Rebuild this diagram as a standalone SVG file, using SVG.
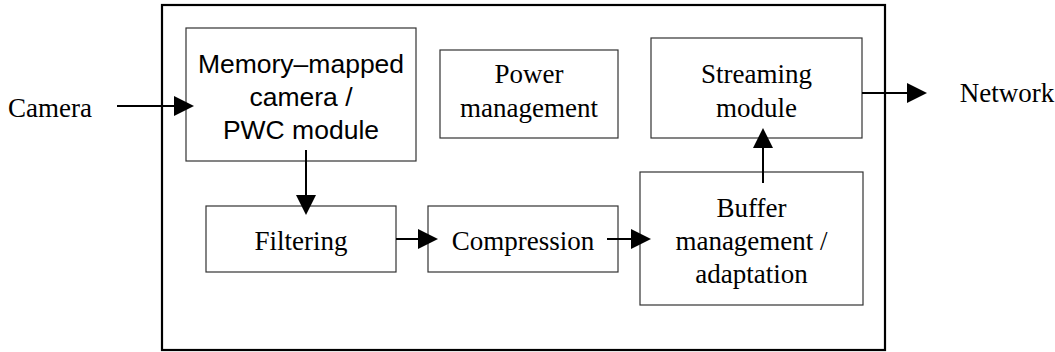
<svg xmlns="http://www.w3.org/2000/svg" width="1055" height="352" viewBox="0 0 1055 352">
<style>
.box{fill:#fff;stroke:#333;stroke-width:1.2}
.outer{fill:none;stroke:#000;stroke-width:2.2}
.serif{font-family:"Liberation Serif","Times New Roman",serif;font-size:27px;fill:#000;text-anchor:middle}
.sans{font-family:"Liberation Sans",Arial,sans-serif;font-size:26.5px;fill:#000;text-anchor:middle}
.conn{fill:none;stroke:#000;stroke-width:2;marker-end:url(#ah)}
</style>
<defs>
<marker id="ah" viewBox="0 0 20 20" refX="0" refY="10" markerWidth="20" markerHeight="20" markerUnits="userSpaceOnUse" orient="auto">
<path d="M0,0 L20,10 L0,20 z" fill="#000"/>
</marker>
</defs>
<rect id="system" class="outer" x="162" y="5" width="723" height="345"/>
<g id="camera"><text class="serif" x="50" y="117">Camera</text></g>
<g id="network"><text class="serif" x="1007" y="102">Network</text></g>
<g id="memory">
<rect class="box" x="186" y="28" width="230" height="133"/>
<text class="sans" x="301" y="73">Memory–mapped</text>
<text class="sans" x="301" y="106">camera /</text>
<text class="sans" x="301" y="139">PWC module</text>
</g>
<g id="power">
<rect class="box" x="440" y="50" width="178" height="88"/>
<text class="serif" x="529" y="83">Power</text>
<text class="serif" x="529" y="117">management</text>
</g>
<g id="streaming">
<rect class="box" x="651" y="38" width="211" height="100"/>
<text class="serif" x="756.5" y="83">Streaming</text>
<text class="serif" x="756.5" y="117">module</text>
</g>
<g id="filtering">
<rect class="box" x="206" y="206" width="190" height="66"/>
<text class="serif" x="301" y="250">Filtering</text>
</g>
<g id="compression">
<rect class="box" x="428" y="206" width="190" height="66"/>
<text class="serif" x="523" y="250">Compression</text>
</g>
<g id="buffer">
<rect class="box" x="640" y="172" width="223" height="133"/>
<text class="serif" x="751.5" y="217">Buffer</text>
<text class="serif" x="751.5" y="250">management /</text>
<text class="serif" x="751.5" y="283">adaptation</text>
</g>
<g id="connectors">
<path class="conn" d="M117,106 H174"/>
<path class="conn" d="M306,150 V195"/>
<path class="conn" d="M396,239 H418"/>
<path class="conn" d="M607,239 H631"/>
<path class="conn" d="M763,183 V148"/>
<path class="conn" d="M862,93 H907"/>
</g>
</svg>
